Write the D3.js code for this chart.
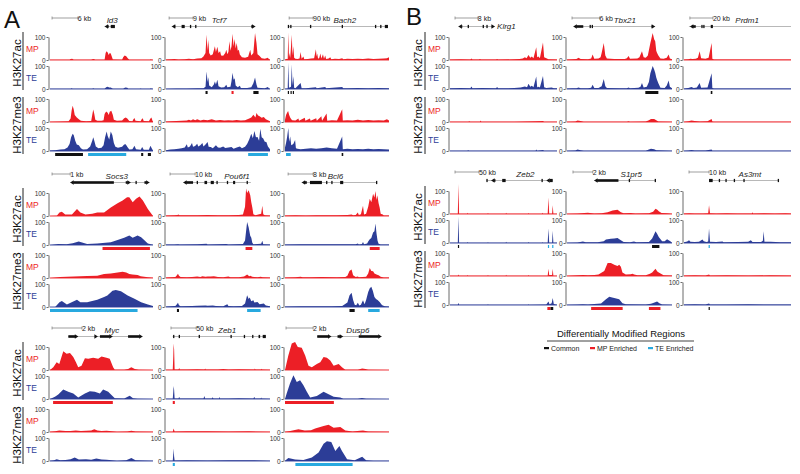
<!DOCTYPE html>
<html><head><meta charset="utf-8">
<script src="https://cdn.jsdelivr.net/npm/d3@7"></script>
<style>body{margin:0;background:#fff}svg{display:block;font-family:"Liberation Sans",Arial,sans-serif}</style>
</head><body><svg id="c" width="800" height="474"></svg>
<script>
// ---------- DATA ----------
// Signal tracks: flat [position%, signal, ...] for [H3K27ac MP, H3K27ac TE, H3K27me3 MP, H3K27me3 TE]
const Id3_sig = [
 [0,1, 19,1, 20,4, 21.5,5, 23,1, 40,1, 41,3, 42.5,4, 44,1, 53,1, 54,30, 55,38, 56,33, 57,22, 58,30, 59,28, 60,15, 61,2, 70,1, 71,12, 72.5,20, 74,16, 75.5,8, 77,1, 97,1, 98,3, 99,1, 100,1],
 [0,1, 20,1, 21,3, 22,1, 41,1, 42,3, 43,1, 53,1, 54.5,8, 56,10, 57.5,6, 59,7, 61,1, 71,1, 73,6, 75,5, 76,1, 87,1, 88,2, 89,1, 97,1, 98,3, 99,1, 100,1],
 [0,1, 10,2, 18,3, 20,15, 21,50, 22,71, 23,55, 24,30, 26,20, 28,12, 30,5, 35,3, 40,4, 41,30, 42,54, 43,35, 44,10, 46,5, 50,5, 52,8, 53,35, 54.5,46, 56,40, 57,30, 58,45, 59.5,49, 61,30, 62,10, 65,5, 70,6, 72,16, 73.5,20, 75,15, 77,4, 80,3, 81,12, 82,17, 83,5, 88,3, 89,12, 90,16, 91,4, 96,3, 97.5,15, 98.5,20, 99.5,5, 100,2],
 [0,2, 5,3, 10,6, 14,8, 17,15, 19,30, 20.5,60, 22,75, 23,70, 24.5,45, 26,28, 28,25, 30,12, 32,6, 36,8, 39,20, 41,45, 42,60, 43,45, 44.5,20, 47,12, 50,14, 52,25, 53.5,60, 55,85, 56,65, 57.5,50, 59,85, 60.5,70, 62,35, 63.5,18, 66,14, 70,18, 72,28, 73.5,29, 75,18, 77,6, 80,8, 82,23, 83.5,8, 88,5, 89.5,17, 91,5, 96,5, 97.5,23, 99,10, 100,2]
];
const Tcf7_sig = [
 [0,2, 5,3, 8,4, 12,2, 18,3, 22,5, 26,3, 30,6, 34,8, 36,15, 38,30, 39,110, 40,40, 40.7,88, 41.5,30, 43,20, 45,25, 47,60, 48,35, 49.4,58, 50.5,30, 52,38, 53,20, 55,18, 57,30, 58,45, 59,25, 60,35, 61,81, 62,40, 63,60, 64,114, 65,60, 66,91, 67,50, 68,74, 69,40, 70,45, 71,24, 73,12, 76,10, 79,14, 81,45, 82,20, 84,30, 85.6,117, 87,74, 88,25, 90,17, 92,8, 95,5, 98,10, 99,3, 100,2],
 [0,1, 10,2, 20,2, 30,3, 36,3, 38,10, 39,76, 40,30, 40.7,51, 41.5,15, 44,8, 46,20, 47,33, 48,20, 49.4,40, 50.5,12, 53,6, 56,8, 58,19, 59,8, 62,10, 63,35, 64,71, 65,40, 66,47, 67,15, 69,8, 71,14, 72,4, 78,4, 82,8, 84,25, 85.6,50, 87,20, 88,5, 95,3, 98,9, 99,2, 100,1],
 [0,2, 10,4, 20,6, 22,10, 24,7, 26,12, 28,8, 30,12, 33,7, 36,10, 40,8, 44,12, 48,7, 52,9, 56,6, 60,8, 64,6, 68,9, 72,7, 76,8, 80,15, 82,20, 84,32, 86,20, 87,39, 88.5,28, 90,25, 92,18, 94,22, 96,12, 98,8, 100,3],
 [0,3, 4,6, 8,8, 12,10, 15,12, 18,15, 20,29, 21,15, 23,20, 25,35, 26,18, 28,22, 30,32, 31,20, 33,25, 35,35, 36,20, 38,28, 40,39, 41,18, 43,17, 45,12, 48,25, 50,15, 52,14, 55,20, 57,13, 60,15, 63,17, 65,10, 68,15, 71,20, 73,12, 76,18, 78,30, 80,50, 82,75, 83.5,55, 85,87, 86.5,60, 88,61, 89.5,45, 90.7,97, 92,60, 93.5,54, 95,40, 96.5,39, 98,20, 100,8]
];
const Bach2_sig = [
 [0,2, 2,5, 2.6,3, 3.2,120, 3.8,10, 4.5,30, 5,8, 5.8,60, 6.5,110, 7.2,20, 8,60, 8.8,10, 10,5, 12,4, 14,6, 15,35, 16,5, 17.7,15, 18.5,3, 22,4, 25,6, 28,8, 29.7,47, 30.4,15, 31,28, 31.8,5, 33,10, 34,28, 35,6, 36.5,25, 37.5,5, 38.7,20, 39.5,4, 42,6, 43.5,12, 44.5,3, 48,5, 52,4, 55,8, 56,3, 60,5, 65,4, 70,5, 75,4, 80,6, 85,4, 90,5, 95,6, 98,8, 100,12],
 [0,1, 2.6,2, 3.2,115, 3.8,5, 5.8,10, 6.5,107, 7.2,15, 8,55, 8.8,5, 10,3, 15,26, 16,3, 20,3, 29.7,8, 30.5,3, 38.7,9, 39.5,3, 55,9, 56,3, 60,3, 70,4, 80,3, 90,4, 100,3],
 [0,10, 1,30, 2,40, 3,48, 4,30, 5,20, 6,12, 7,8, 10,6, 12.9,15, 13.5,5, 19,18, 19.6,5, 24,15, 24.6,5, 30,16, 30.6,5, 35,25, 35.6,5, 40,37, 40.6,5, 45,8, 50,6, 55,55, 55.6,6, 60,8, 65,6, 70,10, 75,7, 80,9, 85,6, 90,8, 95,7, 98,12, 100,6],
 [0,15, 1,35, 2,60, 3.2,100, 4,40, 5,63, 6,25, 8,30, 9.7,48, 10.5,12, 12,10, 15,8, 20,10, 25,12, 30,10, 35,12, 40,15, 45,12, 50,10, 55,63, 55.6,8, 60,10, 65,8, 70,9, 75,8, 80,10, 85,8, 90,9, 95,8, 100,6]
];
const Klrg1_sig = [
 [0,2, 10,3, 19,2, 20,6, 21,2, 27,2, 28,4, 29,2, 43,2, 44,4, 45,2, 60,3, 65,4, 68,6, 70,12, 71.5,8, 73.4,22, 75,10, 76.5,15, 78,8, 80.6,55, 81.5,12, 82.8,15, 84,8, 86.9,76, 88,12, 90.6,7, 92,3, 100,2],
 [0,3, 10,4, 19,3, 20,11, 21,3, 30,4, 43,3, 44,9, 45,3, 60,4, 66,6, 70,11, 72,8, 73.4,23, 75,10, 76.5,14, 78,8, 80.6,54, 81.5,8, 83,10, 84,6, 86.9,57, 88,8, 90,4, 95,7, 97,3, 100,3],
 [0,1, 17,1, 18,3, 19,1, 28,1, 28.6,7, 29.3,1, 60,1, 70,2, 80,3, 86.9,4, 88,1, 100,1],
 [0,1, 16,1, 17,3, 18,1, 80,1, 80.6,6, 81.5,1, 86.9,4, 88,1, 100,1]
];
const Tbx21_sig = [
 [0,2, 5,3, 9,4, 11,10, 13,4, 20,3, 23,6, 24.4,24, 26,5, 30,6, 32,12, 33,30, 35,74, 36.5,20, 38,6, 45,4, 55,4, 57,8, 58.7,17, 60,5, 67,6, 69,12, 71.4,38, 73,12, 75,10, 77,20, 79.4,74, 81.6,117, 83,90, 84,81, 85,40, 85.7,31, 87,20, 89,6, 92,5, 95,10, 96.8,24, 98,6, 100,3],
 [0,2, 5,3, 9,3, 11,7, 13,3, 20,3, 23,5, 24.4,19, 26,4, 30,4, 33,12, 35,44, 36.5,12, 38,4, 50,3, 57,3, 58.7,6, 60,3, 68,5, 70,10, 71.4,26, 73,6, 76,10, 78,30, 79.4,69, 81.6,100, 83,85, 84,71, 85,50, 85.7,40, 87,25, 89,5, 93,4, 95,15, 96.8,37, 98,10, 100,3],
 [0,1, 8,2, 10,7, 13,4, 16,1, 57,1, 58.7,3, 60,1, 75,2, 78,8, 80,13, 83,13, 85,8, 87,2, 100,1],
 [0,1, 8,2, 10,6, 13,3, 16,1, 75,1, 78,6, 80,10, 83,8, 85,3, 100,1]
];
const Prdm1_sig = [
 [0,2, 4,3, 6,5, 8,4, 11,5, 13,10, 14.6,38, 16,8, 20,5, 23,10, 25.8,74, 26.5,5, 28,2, 100,2],
 [0,2, 4,4, 7,9, 9,4, 12,6, 14.6,26, 16,5, 22,6, 25.8,69, 26.5,4, 28,2, 100,2],
 [0,1, 4,3, 7,7, 10,4, 15,2, 22,3, 25.8,13, 26.5,2, 28,1, 100,1],
 [0,1, 4,2, 7,4, 10,2, 20,2, 25.8,7, 26.5,1, 100,1]
];
const Socs3_sig = [
 [0,0, 6.6,1, 9.2,15, 11.5,18, 14.8,7, 21.3,7, 26.2,30, 29.5,15, 34.4,7, 41,10, 45.9,15, 52.5,15, 59,37, 65.6,55, 70.5,67, 74.8,82, 77,82, 80.3,60, 83.6,75, 86.9,85, 90.2,67, 95,30, 98.4,10, 100,0],
 [0,0, 8,4, 16,3, 22,8, 27.9,15, 36,4, 45.9,7, 59,12, 65.6,22, 72,31, 77,41, 80.3,31, 85,41, 88.5,34, 95,7, 100,1],
 [0,0, 9.8,4, 23,6, 36,9, 45.9,10, 52.5,17, 59,20, 65.6,24, 70.5,27, 74,24, 77,17, 80,15, 85,13, 88,8, 95,3, 100,1],
 [0,0, 5,0, 9.2,21, 11.5,26, 16.4,11, 26.2,31, 29.5,21, 36,21, 45.9,31, 52.5,43, 55.7,50, 60.7,71, 63.9,74, 68.9,69, 75.4,50, 82,36, 88.5,21, 95,11, 100,4]
];
const Pou6f1_sig = [
 [0,2, 8,3, 11,4, 12,7, 13,3, 20,3, 30,3, 40,4, 50,3, 60,3, 70,4, 74,6, 76,40, 77,120, 78,100, 79.5,112, 81,90, 82,60, 83,37, 84,8, 86,3, 91.5,10, 92.6,45, 93.5,8, 95,3, 100,2],
 [0,2, 8,2, 11,3, 12,3, 13,2, 30,3, 39,5, 40,2, 58,4, 60,2, 74,4, 76,20, 78,100, 79.5,76, 81,40, 82,32, 83,10, 84,3, 91.5,5, 92.6,18, 93.5,3, 100,2],
 [0,2, 9,4, 10.5,12, 11.5,18, 12.5,10, 14,4, 20,3, 25,4, 30,7, 33,4, 35,8, 38,5, 40,7, 43,6, 46,8, 50,4, 55,3, 60,6, 62,3, 70,3, 75,6, 77,12, 78,15, 80,8, 81,10, 83,5, 88,3, 91,5, 93,3, 100,2],
 [0,2, 9,4, 10.5,12, 11.5,18, 12.5,8, 14,3, 25,4, 30,5, 38,7, 40,5, 45,7, 48,4, 55,3, 59,12, 60,4, 65,3, 73,4, 76,15, 78,51, 79.5,35, 80.5,41, 82,25, 84,29, 85,20, 88,22, 90,12, 94,15, 96,7, 100,3]
];
const Bcl6_sig = [
 [0,2, 10,3, 20,2, 30,3, 50,3, 60,4, 62,5, 64,7, 65.5,3, 68,4, 70,15, 71,4, 73,8, 75,45, 76,6, 78,10, 80,40, 81.5,75, 83,60, 84.7,97, 86,80, 87,109, 88,70, 88.8,90, 90,55, 91,37, 92,10, 94,7, 95,2, 100,2],
 [0,2, 15,3, 30,3, 50,3, 60,3, 68,3, 70,6, 71,2, 74,4, 75,13, 76,3, 79,6, 80,15, 81.5,25, 83,30, 84.7,54, 86,60, 87,94, 88,50, 89,18, 90,5, 92,2, 100,2],
 [0,2, 10,3, 15,5, 17,3, 25,3, 35,4, 50,3, 58,4, 60,10, 62,30, 64,37, 65.5,12, 68,4, 70,7, 71,3, 78,5, 80,20, 81.5,44, 83,30, 84.7,29, 86,20, 88,15, 90,12, 92,5, 95,2, 100,2],
 [0,2, 15,3, 30,3, 45,3, 55,4, 60,20, 62,50, 64,62, 65.5,30, 67,10, 68.5,8, 70,18, 71.5,6, 73,10, 75,29, 76.5,12, 78,30, 80,65, 81.5,81, 83,88, 84.5,70, 86,44, 87.5,35, 89,30, 91,22, 93,10, 94,7, 96,3, 100,2]
];
const Myc_sig = [
 [0,0, 3.2,12, 6.5,34, 9,26, 12.9,82, 16.1,71, 19.4,74, 22.6,56, 25.2,34, 27.4,12, 30.6,19, 33.9,51, 37.1,49, 41.9,53, 46.8,49, 50,59, 54.8,53, 58,49, 61.3,12, 62.9,1, 72,1, 75.8,4, 79,12, 82.3,4, 86,1, 100,0],
 [0,0, 4.8,10, 8,20, 12.9,41, 17.7,31, 22.6,24, 27.4,7, 33.9,24, 38.7,34, 43.5,31, 48.4,24, 51.6,41, 56.5,31, 59.7,17, 62.9,3, 72,2, 77.4,14, 80.6,3, 85,1, 100,0],
 [0,1, 5,3, 9,6, 15,4, 20,4, 25,6, 30,4, 35,5, 40,6, 43,12, 46,6, 50,4, 55,5, 60,3, 65,1, 75,2, 79,5, 83,2, 100,1],
 [0,1, 4,3, 6.5,8, 10,3, 15,4, 20,8, 24,15, 28,6, 35,8, 40,5, 45,11, 50,6, 55,5, 60,3, 65,1, 74,3, 79,13, 83,3, 100,1]
];
const Zeb1_sig = [
 [0,1, 6.5,1, 7,60, 7.3,115, 7.8,90, 8.3,2, 12,2, 12.7,9, 13.3,2, 20,2, 30,3, 37,2, 37.6,6, 38.2,2, 50,2, 55,4, 60,2, 70,3, 85,2, 85.5,6, 86,2, 91.5,2, 92,5, 92.5,2, 100,1],
 [0,1, 6.5,1, 7,30, 7.3,56, 7.8,40, 8.3,2, 12,2, 12.7,10, 13.3,2, 36,2, 37,13, 37.6,2, 44,2, 45,8, 45.6,2, 51,2, 51.5,10, 52,2, 60,2, 70,3, 84,2, 85,10, 85.5,2, 91,2, 91.5,7, 92,2, 100,1],
 [0,1, 6.5,1, 7.3,15, 8.3,2, 20,3, 40,3, 60,2, 80,3, 100,1],
 [0,1, 6.5,1, 7,30, 7.3,54, 7.8,20, 8.3,2, 20,3, 40,2, 60,3, 85,3, 100,1]
];
const Dusp6_sig = [
 [0,0, 3.2,63, 6.5,115, 9.7,122, 12.3,100, 16.1,97, 19.4,63, 22.6,19, 25.8,12, 30.6,26, 33.9,34, 37.1,56, 40.3,53, 43.5,41, 46.8,19, 51.6,26, 54.8,12, 58,1, 70,1, 74.2,7, 77.4,4, 80,1, 100,0],
 [0,0, 1.6,24, 4.8,67, 8.1,103, 11.3,74, 14.5,81, 17.7,60, 21,31, 24.2,7, 30.6,13, 37.1,31, 41.9,21, 46.8,10, 53.2,6, 56,1, 70,1, 74,4, 78,1, 100,0],
 [0,1, 5,4, 12.9,12, 19,6, 25,8, 29,15, 37.1,26, 41.9,31, 46.8,19, 53.2,22, 58,7, 65,2, 72,5, 75,7, 80,2, 100,1],
 [0,1, 3.2,13, 9.7,7, 17.7,4, 25.8,15, 32.3,37, 37.1,75, 40.3,86, 44.5,83, 48.4,44, 52.3,65, 54.8,44, 59.7,8, 67,3, 74.2,18, 78,3, 85,1, 100,1]
];
const Zeb2_sig = [
 [0,1, 7.3,1, 7.9,130, 8.5,1, 16,1, 16.5,5, 17,1, 35,1, 35.5,4, 36,1, 52,1, 52.5,5, 53,1, 73,1, 73.5,4, 74,1, 86,1, 86.5,5, 87,1, 91.3,1, 92,72, 92.7,1, 95.4,1, 96,38, 96.6,1, 100,1],
 [0,1, 7.3,1, 7.9,115, 8.5,1, 16,1, 16.5,4, 17,1, 35,1, 35.5,3, 36,1, 52,1, 52.5,5, 53,1, 73,1, 73.5,4, 74,1, 86,1, 86.5,3, 87,1, 91.3,1, 92,63, 92.7,1, 95.4,1, 96,53, 96.6,1, 100,1],
 [0,1, 7.3,1, 7.9,6, 8.5,1, 16,1, 16.5,4, 17,1, 35,1, 35.5,4, 36,1, 52,1, 52.5,5, 53,1, 73,1, 73.5,4, 74,1, 91.3,1, 92,32, 92.7,4, 95.4,4, 96,32, 96.6,1, 100,1],
 [0,1, 7.3,1, 7.9,10, 8.5,1, 35,1, 35.5,3, 36,1, 73,1, 73.5,3, 74,1, 90,2, 92,15, 93,3, 95,8, 96,30, 97,4, 100,1]
];
const S1pr5_sig = [
 [0,1, 10,2, 19.8,5, 26,2, 33,3, 38.7,8, 43.4,15, 48.1,18, 51.3,8, 54,3, 60.7,4, 65,2, 78,3, 82,10, 84.3,23, 86,18, 87.4,12, 90,4, 95.3,3, 100,1],
 [0,1, 10,2, 15.1,7, 18,3, 29.2,3, 35,8, 37.1,15, 41.8,19, 45,20, 48.1,22, 51.3,12, 54,4, 60,3, 63.8,6, 66,3, 78,4, 81.1,20, 82.7,35, 84.3,51, 85.8,40, 87.4,26, 90.6,8, 93,8, 95.3,16, 98.4,8, 100,1],
 [0,1, 10,3, 15.1,4, 20,3, 26.1,4, 30,7, 35.5,22, 38.7,56, 41.8,56, 45,49, 48.1,44, 49.7,49, 51.3,40, 52.8,15, 56,6, 60.7,8, 62.3,10, 64,6, 67,3, 75,3, 79,10, 81.1,15, 84.3,32, 86,20, 87.4,15, 92,3, 100,2],
 [0,1, 10,2, 15,3, 20,2, 26,4, 32.4,6, 37.1,25, 40.3,36, 42,34, 45,30, 49.7,25, 52.8,8, 56,3, 75,2, 80,5, 82.7,10, 85.8,15, 88,8, 90.6,2, 100,1]
];
const As3mt_sig = [
 [0,2, 5,3, 10,2, 18,2, 22.6,3, 23.4,38, 24.3,3, 30,2, 40,3, 50,2, 63.4,2, 64,8, 64.6,2, 75,3, 85,2, 95,3, 100,2],
 [0,3, 3,6, 4.7,12, 6,5, 10,4, 14,5, 17.2,15, 18.5,8, 19.4,7, 21,4, 22.6,6, 23.4,63, 24.3,5, 30,4, 36,7, 37,3, 50,4, 60,5, 62.5,12, 64,4, 72,4, 73.7,10, 74.4,51, 75.2,5, 81,5, 90,3, 100,3],
 [0,2, 10,3, 20,2, 23.4,7, 24.3,2, 40,3, 60,2, 80,3, 100,2],
 [0,2, 10,3, 20,2, 23.4,6, 24.3,2, 40,2, 60,3, 80,2, 100,2]
];

// Differentially modified regions: [start%, end%, type] C=Common M=MP enriched T=TE enriched
const dmr_ac = {
 Id3: [], Tcf7: [[38,40,'C'],[63,65,'M'],[84,89,'C']], Bach2: [[2.7,3.7,'C'],[5.3,6.3,'C'],[7.5,8.5,'C']],
 Klrg1: [], Tbx21: [[74.6,87,'C']], Prdm1: [[25,26.5,'C']],
 Socs3: [[51,97,'M']], Pou6f1: [[76.5,83,'M']], Bcl6: [[81.5,91,'M']],
 Zeb2: [[7.4,8.4,'C'],[91.5,92.5,'T'],[95.5,96.5,'T']], S1pr5: [[81,88,'C']], As3mt: [[23,24,'T']],
 Myc: [[3,61,'M']], Zeb1: [[6.5,8.5,'M']], Dusp6: [[0,47,'M']]
};
const dmr_me = {
 Id3: [[5,32,'C'],[37,74,'T'],[88.5,90.5,'C'],[95,98,'C']], Tcf7: [[79,98,'T']], Bach2: [[1,5.5,'T'],[54.5,56,'C']],
 Klrg1: [], Tbx21: [], Prdm1: [],
 Socs3: [[0,85,'T']], Pou6f1: [[10.5,12.5,'C'],[78,91,'T']], Bcl6: [[62,67,'C'],[80,91,'T']],
 Zeb2: [[91,94,'M'],[94,96.5,'C']], S1pr5: [[23,53,'M'],[78,89,'M']], As3mt: [[23,24,'C']],
 Myc: [], Zeb1: [[6.5,8.5,'T']], Dusp6: [[10,65,'T']]
};

// Gene annotations: scale bar [from%, to%, label], gene name and start%, gene line [from%, to%], parts [from%, to%, kind]
const genes = {
 Id3:   {scale:[2,27,'6 kb'],   name:'Id3',   nameX:55, line:[53,63],   parts:[[53,57,'L'],[59,63,'B']]},
 Tcf7:  {scale:[3,26,'9 kb'],   name:'Tcf7',  nameX:44, line:[5.5,86], parts:[[5.5,9,'L'],[15,18,'B'],[23,24,'t'],[28,29,'t'],[82,86,'R']]},
 Bach2: {scale:[4,27,'90 kb'],  name:'Bach2', nameX:46.6, line:[3,99], parts:[[2.7,3.7,'t'],[5,6,'t'],[24,25,'t'],[54.5,55.5,'t'],[86.5,87.5,'t'],[91.5,92.5,'t'],[96,99,'B']]},
 Klrg1: {scale:[4.7,26,'8 kb'], name:'Klrg1', nameX:44, line:[7.8,42], parts:[[7.8,11.5,'L'],[16.5,17.5,'t'],[30.5,31.5,'t'],[34,35,'t'],[39,42,'R']], inline:true},
 Tbx21: {scale:[4.8,31,'6 kb'], name:'Tbx21', nameX:44.5, line:[6,84],  parts:[[6,15.5,'L'],[21.5,22.5,'t'],[23.5,24.5,'t'],[80.5,84,'R']]},
 Prdm1: {scale:[5.5,27,'20 kb'],name:'Prdm1', nameX:48, line:[4.6,100], parts:[[5.5,11,'L'],[16.2,17.2,'t'],[18,19,'t'],[25,27,'B']]},
 Socs3: {scale:[2,19.6,'1 kb'], name:'Socs3', nameX:54, line:[19.6,96.7], parts:[[19.6,62,'L'],[73.5,78.5,'R'],[83,84.2,'t'],[91.7,96.7,'R']]},
 Pou6f1:{scale:[3.9,28,'10 kb'],name:'Pou6f1',nameX:56, line:[16.5,81.6], parts:[[16.5,26,'L'],[29.5,30.7,'t'],[37,39.5,'B'],[43,46,'B'],[48.5,49.7,'t'],[58.5,59.7,'t'],[64.5,66.5,'B'],[77.5,78.7,'t']]},
 Bcl6:  {scale:[3,27,'8 kb'],   name:'Bcl6',  nameX:41, line:[16,88.5], parts:[[16,21,'L'],[24,35.5,'B'],[39.5,40.7,'t'],[44.5,45.7,'t'],[53,56,'B'],[87.5,88.7,'t']]},
 Myc:   {scale:[2,31,'2 kb'],   name:'Myc',   nameX:53, line:[17.8,90], parts:[[17.8,27.5,'R'],[43.7,46.5,'R'],[48.5,61,'R'],[75.8,90,'R']]},
 Zeb1:  {scale:[4.8,29,'50 kb'],name:'Zeb1',  nameX:50, line:[6.4,96],  parts:[[6.8,8,'t'],[12.2,13.4,'t'],[31.4,32.6,'t'],[62,63.2,'t'],[74.8,76,'t'],[82.8,84,'t'],[89,90.5,'t'],[93,96,'B']]},
 Dusp6: {scale:[1,27,'2 kb'],   name:'Dusp6', nameX:59, line:[31,93],   parts:[[31,44.7,'R'],[50.5,56,'R'],[70.9,93,'R']]},
 Zeb2:  {scale:[4.7,27,'50 kb'],name:'Zeb2',  nameX:62, line:[34,96],   parts:[[34,35.2,'t'],[38.4,42.5,'L'],[48.8,52,'B'],[85.5,86.7,'t'],[90,93,'L'],[93.4,96,'B']]},
 S1pr5: {scale:[5.7,24.5,'2 kb'],name:'S1pr5',nameX:51, line:[25.8,84], parts:[[25.8,49,'L'],[58.8,60,'t'],[83.5,84.7,'t']]},
 As3mt: {scale:[4.7,23.4,'10 kb'],name:'As3mt',nameX:51, line:[23.4,88.8], parts:[[23.4,26.8,'B'],[32.5,33.7,'t'],[38.7,39.9,'t'],[46.5,47.7,'t'],[55.5,56.7,'t'],[87.6,88.8,'t']]}
};
const signals = {Id3:Id3_sig, Tcf7:Tcf7_sig, Bach2:Bach2_sig, Klrg1:Klrg1_sig, Tbx21:Tbx21_sig, Prdm1:Prdm1_sig,
 Socs3:Socs3_sig, Pou6f1:Pou6f1_sig, Bcl6:Bcl6_sig, Myc:Myc_sig, Zeb1:Zeb1_sig, Dusp6:Dusp6_sig,
 Zeb2:Zeb2_sig, S1pr5:S1pr5_sig, As3mt:As3mt_sig};
const trackLabels = ['MP','TE','MP','TE'];
const markLabels = ['H3K27ac','H3K27me3'];
const legendItems = [['Common','C'],['MP Enriched','M'],['TE Enriched','T']];

// ---------- LAYOUT ----------
const RED='#ec1f26', BLUE='#2c3d97', CYAN='#28a9df', BLACK='#111';
const dmrColor = {C:BLACK, M:RED, T:CYAN};
const TOFF=[0,29,62,91], TH=23;
const cols = {A:[[50,153],[166,270],[285,389]], B:[[450,557],[567,672],[684,791]]};
const layout = [
 {g:'Id3',s:'A',c:0,top:37},{g:'Tcf7',s:'A',c:1,top:37},{g:'Bach2',s:'A',c:2,top:37},
 {g:'Socs3',s:'A',c:0,top:193},{g:'Pou6f1',s:'A',c:1,top:193},{g:'Bcl6',s:'A',c:2,top:193},
 {g:'Myc',s:'A',c:0,top:347},{g:'Zeb1',s:'A',c:1,top:347},{g:'Dusp6',s:'A',c:2,top:347},
 {g:'Klrg1',s:'B',c:0,top:37},{g:'Tbx21',s:'B',c:1,top:37},{g:'Prdm1',s:'B',c:2,top:37},
 {g:'Zeb2',s:'B',c:0,top:191},{g:'S1pr5',s:'B',c:1,top:191},{g:'As3mt',s:'B',c:2,top:191}
];
const labelRows = [{s:'A',top:37},{s:'A',top:193},{s:'A',top:347},{s:'B',top:37},{s:'B',top:191}];

const svg = d3.select('#c');

function drawPanel(p){
  const [x0,x1] = cols[p.s][p.c];
  const xs = d3.scaleLinear([0,100],[x0,x1]);
  const sig = signals[p.g];
  sig.forEach((flat,i)=>{
    const base = p.top + TOFF[i] + TH;
    const ys = d3.scaleLinear([0,100],[base, base-TH]);
    const pts = d3.range(0, flat.length, 2).map(k=>[flat[k], flat[k+1]]);
    const col = i%2===0 ? RED : BLUE;
    const g = svg.append('g');
    g.append('path')
      .attr('d', d3.area().x(d=>xs(d[0])).y0(base).y1(d=>ys(d[1]))(pts))
      .attr('fill', col);
    g.append('line').attr('x1',x0).attr('x2',x1).attr('y1',base).attr('y2',base)
      .attr('stroke',col).attr('stroke-width',0.9);
    const ax = g.append('g').attr('transform',`translate(${x0-1.5},0)`)
      .call(d3.axisLeft(ys).tickValues([0,100]).tickSize(2).tickSizeOuter(0).tickPadding(1));
    ax.attr('font-size',6.5).attr('font-family',null);
    ax.select('.domain').attr('stroke','#444').attr('stroke-width',0.8);
    ax.selectAll('.tick line').attr('stroke','#444').attr('stroke-width',0.8);
    ax.selectAll('.tick text').attr('fill','#333');
  });
  // DMRs
  const drawDmr = (list, y)=>{
    svg.append('g').selectAll('rect').data(list).join('rect')
      .attr('x', d=>xs(d[0])).attr('width', d=>Math.max(1.2, xs(d[1])-xs(d[0])))
      .attr('y', y-1.5).attr('height', 3).attr('fill', d=>dmrColor[d[2]]);
  };
  drawDmr(dmr_ac[p.g], p.top+TOFF[1]+TH+3.5);
  drawDmr(dmr_me[p.g], p.top+TOFF[3]+TH+3.5);
  // gene annotation
  const a = genes[p.g];
  const gy = p.top - 10.5, sy = p.top - 19;
  const ga = svg.append('g');
  ga.append('line').attr('x1',xs(a.scale[0])).attr('x2',xs(a.scale[1])).attr('y1',sy).attr('y2',sy)
    .attr('stroke','#777').attr('stroke-width',0.7);
  [a.scale[0],a.scale[1]].forEach(v=>ga.append('line').attr('x1',xs(v)).attr('x2',xs(v))
    .attr('y1',sy-1.5).attr('y2',sy+1.5).attr('stroke','#777').attr('stroke-width',0.7));
  ga.append('text').attr('x',xs(a.scale[1])).attr('y',sy+2.5).attr('font-size',7).attr('fill','#222').text(a.scale[2]);
  ga.append('text').attr('x',xs(a.nameX)).attr('y', a.inline ? gy+2.8 : p.top-14.2)
    .attr('font-size',8).attr('font-style','italic').attr('fill','#222').text(a.name);
  ga.append('line').attr('x1',xs(a.line[0])).attr('x2',xs(a.line[1])).attr('y1',gy).attr('y2',gy)
    .attr('stroke','#999').attr('stroke-width',0.7);
  a.parts.forEach(([u,v,k])=>{
    const X0=xs(u), X1=xs(v);
    if(k==='t'){ ga.append('rect').attr('x',X0).attr('width',Math.max(1.3,X1-X0)).attr('y',gy-1.6).attr('height',3.2).attr('fill',BLACK); }
    else if(k==='B'){ ga.append('rect').attr('x',X0).attr('width',X1-X0).attr('y',gy-1.6).attr('height',3.2).attr('fill',BLACK); }
    else if(k==='L'){
      ga.append('rect').attr('x',X0+3).attr('width',Math.max(0,X1-X0-3)).attr('y',gy-1.3).attr('height',2.6).attr('fill',BLACK);
      ga.append('path').attr('d',`M${X0},${gy}L${X0+3.5},${gy-2.2}L${X0+3.5},${gy+2.2}Z`).attr('fill',BLACK);
    } else if(k==='R'){
      ga.append('rect').attr('x',X0).attr('width',Math.max(0,X1-X0-3)).attr('y',gy-1.3).attr('height',2.6).attr('fill',BLACK);
      ga.append('path').attr('d',`M${X1},${gy}L${X1-3.5},${gy-2.2}L${X1-3.5},${gy+2.2}Z`).attr('fill',BLACK);
    }
  });
}
layout.forEach(drawPanel);

// row labels
labelRows.forEach(r=>{
  const lx = r.s==='A'?17:418, vx = r.s==='A'?23:425, mx = r.s==='A'?26:428;
  const g = svg.append('g');
  [[r.top+26, r.top-5, r.top+53],[r.top+88, r.top+60, r.top+117]].forEach(([cy,ya,yb],j)=>{
    g.append('text').attr('transform',`translate(${lx},${cy}) rotate(-90)`).attr('text-anchor','middle')
      .attr('dy','0.36em').attr('font-size',11.5).attr('fill','#111').text(markLabels[j]);
    g.append('line').attr('x1',vx).attr('x2',vx).attr('y1',ya).attr('y2',yb).attr('stroke','#222').attr('stroke-width',1);
  });
  trackLabels.forEach((t,i)=>{
    g.append('text').attr('x',mx).attr('y',r.top+TOFF[i]+TH/2).attr('dy','0.36em')
      .attr('font-size',8.5).attr('fill', i%2===0?RED:BLUE).text(t);
  });
});

// panel letters
svg.append('text').attr('x',4).attr('y',28).attr('font-size',24).attr('fill','#111').text('A');
svg.append('text').attr('x',406).attr('y',25).attr('font-size',24).attr('fill','#111').text('B');

// legend
const lg = svg.append('g');
lg.append('text').attr('x',621).attr('y',337).attr('text-anchor','middle').attr('font-size',9.5).attr('fill','#111')
  .text('Differentially Modified Regions');
lg.append('line').attr('x1',547).attr('x2',694).attr('y1',341).attr('y2',341).attr('stroke','#111').attr('stroke-width',0.8);
const lx = [544, 590, 648];
legendItems.forEach(([t,k],i)=>{
  lg.append('rect').attr('x',lx[i]).attr('y',347).attr('width',5).attr('height',2.2).attr('fill',dmrColor[k]);
  lg.append('text').attr('x',lx[i]+7).attr('y',350.5).attr('font-size',7).attr('fill','#222').text(t);
});
</script></body></html>
